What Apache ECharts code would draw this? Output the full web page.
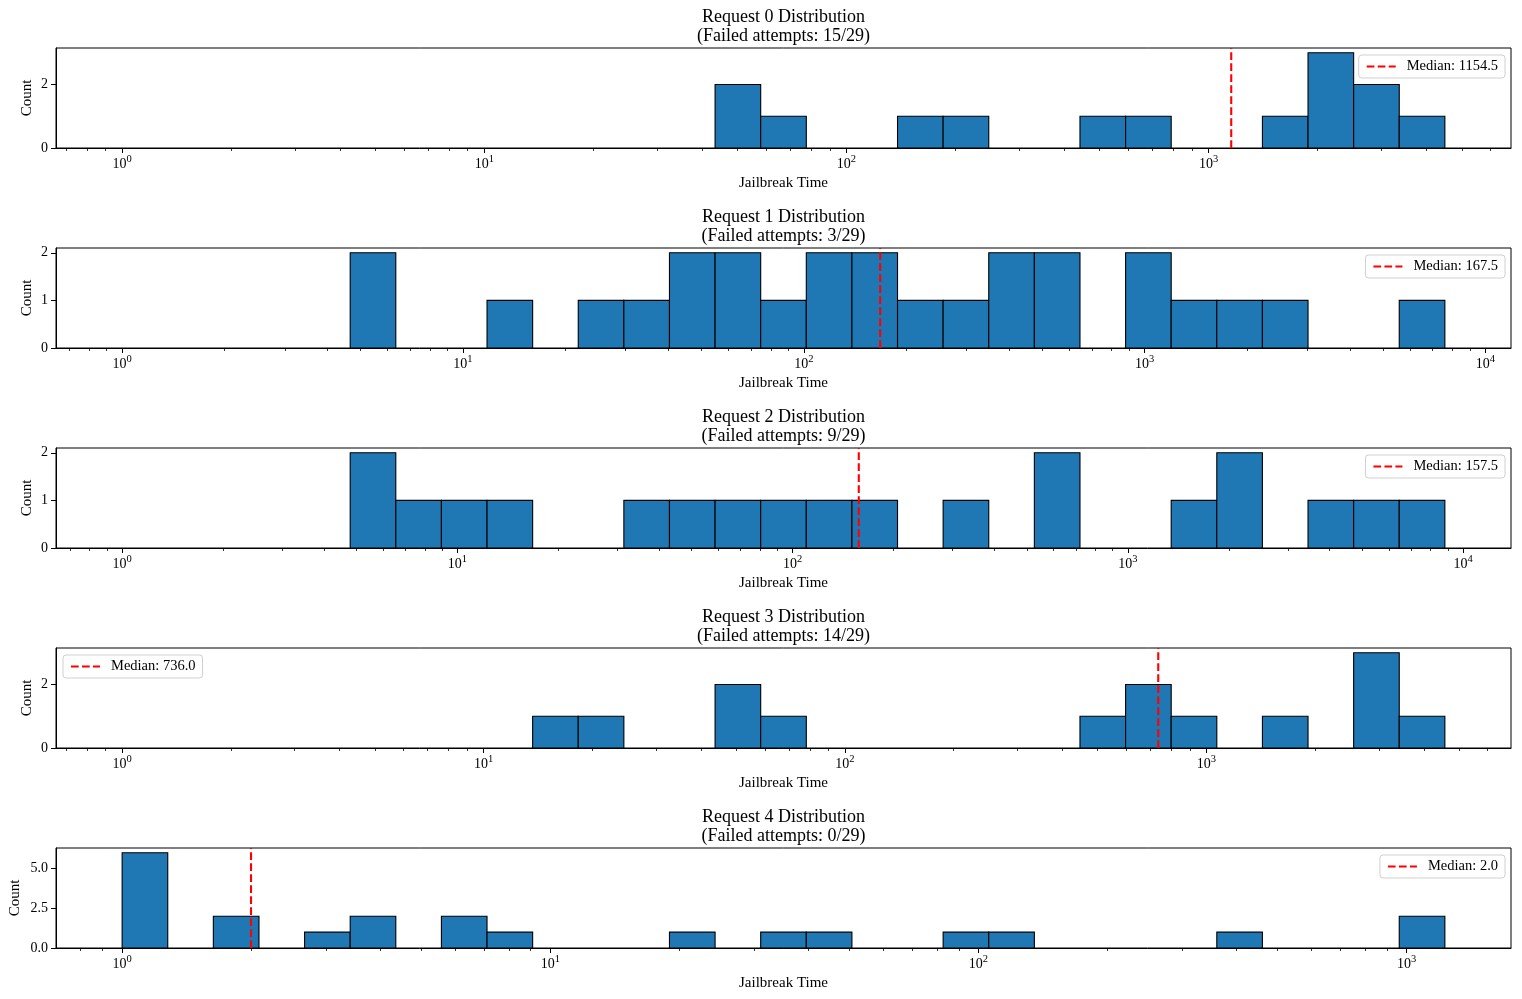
<!DOCTYPE html>
<html><head><meta charset="utf-8">
<script src="https://cdn.jsdelivr.net/npm/echarts@6/dist/echarts.min.js"></script>
<style>html,body{margin:0;padding:0;background:#fff}#c{width:1522px;height:999px}</style>
</head><body><div id="c"></div>
<script>
// ---- data ----
const requestNames = ['Request 0', 'Request 1', 'Request 2', 'Request 3', 'Request 4'];
const failedAttempts = [15, 3, 9, 14, 0];
const totalAttempts = 29;
const medians = [1154.5, 167.5, 157.5, 736.0, 2.0];
const binMin = [1, 1, 1, 1, 1];
const binMax = [4490, 7600, 8820, 4570, 1229];
const counts0 = [0,0,0,0,0,0,0,0,0,0,0,0,0,2,1,0,0,1,1,0,0,1,1,0,0,1,3,2,1];
const counts1 = [0,0,0,0,0,2,0,0,1,0,1,1,2,2,1,2,2,1,1,2,2,0,2,1,1,1,0,0,1];
const counts2 = [0,0,0,0,0,2,1,1,1,0,0,1,1,1,1,1,1,0,1,0,2,0,0,1,2,0,1,1,1];
const counts3 = [0,0,0,0,0,0,0,0,0,1,1,0,0,2,1,0,0,0,0,0,0,1,2,1,0,1,0,3,1];
const counts4 = [6,0,2,0,1,2,0,2,1,0,0,0,1,0,1,1,0,0,1,1,0,0,0,0,1,0,0,0,2];
const yTicks0 = [0, 2];
const yTicks1 = [0, 1, 2];
const yTicks2 = [0, 1, 2];
const yTicks3 = [0, 2];
const yTicks4 = [0, 2.5, 5];
const yTickDecimals = [0, 0, 0, 0, 1];
const legendSide = ['right', 'right', 'right', 'left', 'right'];

const allCounts = [counts0, counts1, counts2, counts3, counts4];
const allYTicks = [yTicks0, yTicks1, yTicks2, yTicks3, yTicks4];

// ---- layout / style ----
const FONT = 'Liberation Serif';
const gridTop = [48, 248, 448, 648, 848];
const GL = 56, GR = 11, GH = 100;

const grids = [], xAxes = [], yAxes = [], series = [], titles = [], legends = [];

for (let i = 0; i < 5; i++) {
  const cnt = allCounts[i];
  const nb = cnt.length;
  const lo = Math.log10(binMin[i]), hi = Math.log10(binMax[i]);
  const span = hi - lo;
  const xmin = lo - 0.05 * span, xmax = hi + 0.05 * span;
  const edges = [];
  for (let k = 0; k <= nb; k++) edges.push(lo + span * k / nb);
  const majors = [];
  for (let n = Math.ceil(xmin); n <= Math.floor(xmax); n++) majors.push(n);
  const minors = [];
  for (let n = Math.floor(xmin); n <= Math.ceil(xmax); n++) {
    for (let m = 2; m <= 9; m++) {
      const v = n + Math.log10(m);
      if (v >= xmin && v <= xmax) minors.push(v);
    }
  }
  const ymax = 1.05 * Math.max(...cnt);
  const yT = allYTicks[i];
  const dec = yTickDecimals[i];

  grids.push({
    left: GL, right: GR, top: gridTop[i], height: GH,
    show: true, borderColor: '#000', borderWidth: 1, backgroundColor: 'transparent',
    containLabel: false, outerBoundsMode: 'none'
  });

  // major axis
  xAxes.push({
    type: 'value', gridIndex: i, position: 'bottom', min: xmin, max: xmax,
    name: 'Jailbreak Time', nameLocation: 'middle', nameGap: 28,
    nameTextStyle: { fontFamily: FONT, fontSize: 15, color: '#000' },
    axisLine: { show: true, onZero: false, lineStyle: { color: '#000', width: 1 } },
    axisTick: { show: true, length: 5, customValues: majors, lineStyle: { color: '#000', width: 1 } },
    axisLabel: {
      show: true, customValues: majors, margin: 6, color: '#000',
      formatter: v => '{b|10}{s|' + Math.round(v) + '}',
      rich: {
        b: { fontFamily: FONT, fontSize: 14, lineHeight: 17, color: '#000', verticalAlign: 'bottom' },
        s: { fontFamily: FONT, fontSize: 10.5, lineHeight: 10.5, color: '#000', verticalAlign: 'top' }
      }
    },
    splitLine: { show: false }
  });
  // minor tick axis
  xAxes.push({
    type: 'value', gridIndex: i, position: 'bottom', min: xmin, max: xmax,
    axisLine: { show: false, onZero: false },
    axisTick: { show: true, length: 3, customValues: minors, lineStyle: { color: '#000', width: 0.8 } },
    axisLabel: { show: false },
    splitLine: { show: false }
  });

  yAxes.push({
    type: 'value', gridIndex: i, min: 0, max: ymax,
    name: 'Count', nameLocation: 'middle', nameGap: i === 4 ? 33 : 21, nameMoveOverlap: false,
    nameTextStyle: { fontFamily: FONT, fontSize: 15, color: '#000' },
    axisLine: { show: true, onZero: false, lineStyle: { color: '#000', width: 1 } },
    axisTick: { show: true, length: 5, customValues: yT, lineStyle: { color: '#000', width: 1 } },
    axisLabel: { customValues: yT, formatter: v => Number(v).toFixed(dec), fontFamily: FONT, fontSize: 14, color: '#000', margin: 8 },
    splitLine: { show: false }
  });

  const barData = [];
  for (let k = 0; k < nb; k++) if (cnt[k] > 0) barData.push([edges[k], edges[k + 1], cnt[k]]);
  series.push({
    type: 'custom', xAxisIndex: 2 * i, yAxisIndex: i, data: barData,
    encode: { x: [0, 1], y: 2 }, silent: true, animation: false, z: 2,
    renderItem: (params, api) => {
      const p0 = api.coord([api.value(0), api.value(2)]);
      const p1 = api.coord([api.value(1), 0]);
      return {
        type: 'rect',
        shape: { x: p0[0], y: p0[1], width: p1[0] - p0[0], height: p1[1] - p0[1] },
        style: { fill: '#1f77b4', stroke: '#000', lineWidth: 1.1 }
      };
    }
  });

  const mName = 'Median: ' + medians[i].toFixed(1);
  const lm = Math.log10(medians[i]);
  series.push({
    type: 'line', name: mName, xAxisIndex: 2 * i, yAxisIndex: i,
    data: [[lm, 0], [lm, ymax]], symbol: 'none', showSymbol: false, silent: true, animation: false, z: 3,
    lineStyle: { color: '#ff0000', width: 2.1, type: [7.7, 3.3] },
    itemStyle: { color: '#ff0000' }
  });

  const lg = {
    data: [mName], top: gridTop[i] + 7, orient: 'horizontal', selectedMode: false,
    padding: [4, 7, 4, 7], itemWidth: 29, itemHeight: 14,
    itemStyle: { opacity: 0 },
    backgroundColor: 'rgba(255,255,255,0.8)', borderColor: '#d0d0d0', borderWidth: 1, borderRadius: 3,
    textStyle: { fontFamily: FONT, fontSize: 14.5, color: '#000', padding: [0, 0, 0, 6] }
  };
  if (legendSide[i] === 'right') lg.right = 17; else lg.left = 63;
  legends.push(lg);

  titles.push({
    text: requestNames[i] + ' Distribution\n(Failed attempts: ' + failedAttempts[i] + '/' + totalAttempts + ')',
    left: 783.5, textAlign: 'center', top: gridTop[i] - 40.5, padding: 0,
    textStyle: { fontFamily: FONT, fontSize: 18, fontWeight: 'normal', lineHeight: 19, color: '#000' }
  });
}

const chart = echarts.init(document.getElementById('c'), null, { renderer: 'canvas' });
chart.setOption({
  backgroundColor: '#fff',
  animation: false,
  title: titles,
  legend: legends,
  grid: grids,
  xAxis: xAxes,
  yAxis: yAxes,
  series: series
});
</script>
</body></html>
